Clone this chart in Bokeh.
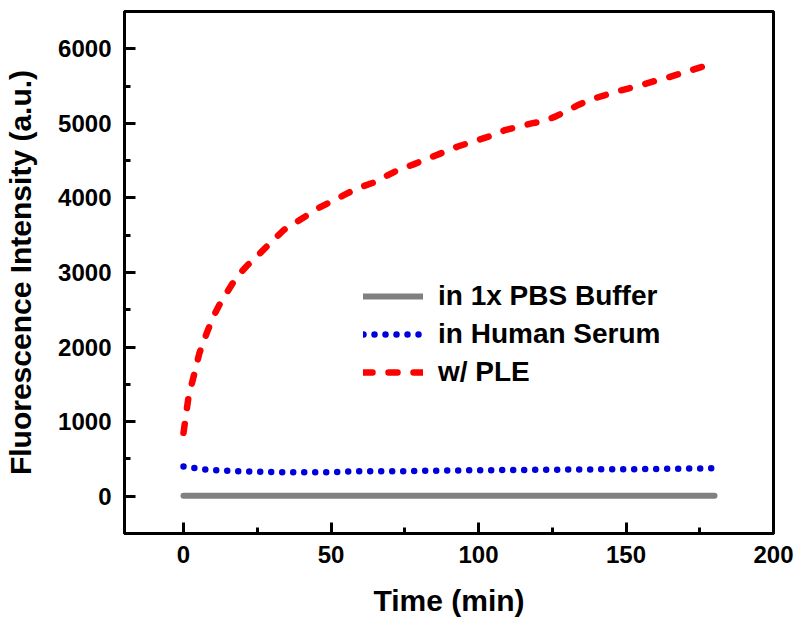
from bokeh.plotting import figure
from bokeh.models import Range1d, SingleIntervalTicker, Legend, LegendItem
from bokeh.embed import file_html
from bokeh.resources import INLINE

# ---- data ----
pbs_t = [0, 30, 60, 90, 120, 150, 180]
pbs_y = [5, 5, 5, 5, 5, 5, 5]

serum_t = [0, 4, 7, 12, 18, 25, 31, 37, 45, 52, 60, 67, 73, 80, 90, 100, 107,
           115, 125, 135, 141, 150, 160, 170, 180]
serum_y = [400, 375, 360, 345, 335, 328, 322, 320, 320, 325, 335, 335, 335,
           340, 345, 348, 350, 352, 355, 358, 360, 362, 365, 370, 375]

ple_t = [0, 1.7, 3.4, 5.4, 8, 10, 12.5, 15, 18, 22, 26, 30, 34, 38, 42, 46, 51,
         55, 59, 64, 68, 73, 78, 83, 88, 93, 100, 105, 109, 114, 118, 122, 126,
         130, 134, 138, 143, 147, 151, 155, 159, 163, 167, 171, 176, 180]
ple_y = [850, 1330, 1600, 1920, 2200, 2400, 2590, 2750, 2940, 3110, 3260, 3420,
         3570, 3670, 3770, 3870, 3970, 4050, 4130, 4200, 4280, 4380, 4450, 4530,
         4610, 4690, 4780, 4840, 4910, 4960, 5000, 5030, 5090, 5170, 5250, 5320,
         5380, 5430, 5470, 5510, 5560, 5600, 5650, 5700, 5760, 5790]

labels = ["in 1x PBS Buffer", "in Human Serum", "w/ PLE"]

FONT = "Liberation Sans"

p = figure(width=795, height=619, output_backend="svg", toolbar_location=None,
           x_range=Range1d(-20, 200), y_range=Range1d(-500, 6500),
           min_border_left=124, min_border_right=22, min_border_top=11,
           min_border_bottom=86)

p.grid.visible = False
p.outline_line_color = "black"
p.outline_line_width = 3
p.background_fill_color = "white"
p.border_fill_color = "white"

r1 = p.line(pbs_t, pbs_y, line_color="#808080", line_width=6, line_cap="round")
r2 = p.line(serum_t, serum_y, line_color="#0000dd", line_width=6.5,
            line_dash="0 11", line_cap="round")
r3 = p.line(ple_t, ple_y, line_color="#ff0000", line_width=6.5,
            line_dash="9 16", line_cap="round")

p.xaxis.ticker = SingleIntervalTicker(interval=50, num_minor_ticks=2)
p.yaxis.ticker = SingleIntervalTicker(interval=1000, num_minor_ticks=2)

for ax in (p.xaxis[0], p.yaxis[0]):
    ax.axis_line_width = 3
    ax.major_tick_line_width = 3
    ax.minor_tick_line_width = 3
    ax.major_tick_in = 11
    ax.major_tick_out = 0
    ax.minor_tick_in = 6
    ax.minor_tick_out = 0
    ax.major_label_text_font = FONT
    ax.major_label_text_font_style = "bold"
    ax.major_label_text_font_size = "24px"
    ax.major_label_text_color = "black"
    ax.axis_label_text_font = FONT
    ax.axis_label_text_font_style = "bold"
    ax.axis_label_text_font_size = "30px"
    ax.axis_label_text_color = "black"

p.xaxis.axis_label = "Time (min)"
p.yaxis.axis_label = "Fluorescence Intensity (a.u.)"
p.xaxis.major_label_standoff = 12
p.xaxis.axis_label_standoff = 18
p.yaxis.major_label_standoff = 13
p.yaxis.axis_label_standoff = 18

legend = Legend(items=[LegendItem(label=labels[0], renderers=[r1]),
                       LegendItem(label=labels[1], renderers=[r2]),
                       LegendItem(label=labels[2], renderers=[r3])],
                location=(239, 142), padding=0, margin=0, spacing=0,
                glyph_width=60, glyph_height=38, label_height=38,
                label_standoff=15, border_line_alpha=0,
                background_fill_alpha=0, label_text_font=FONT,
                label_text_font_style="bold", label_text_font_size="28px",
                label_text_color="black")
p.add_layout(legend, "center")

open("out.html", "w").write(file_html(p, INLINE))
